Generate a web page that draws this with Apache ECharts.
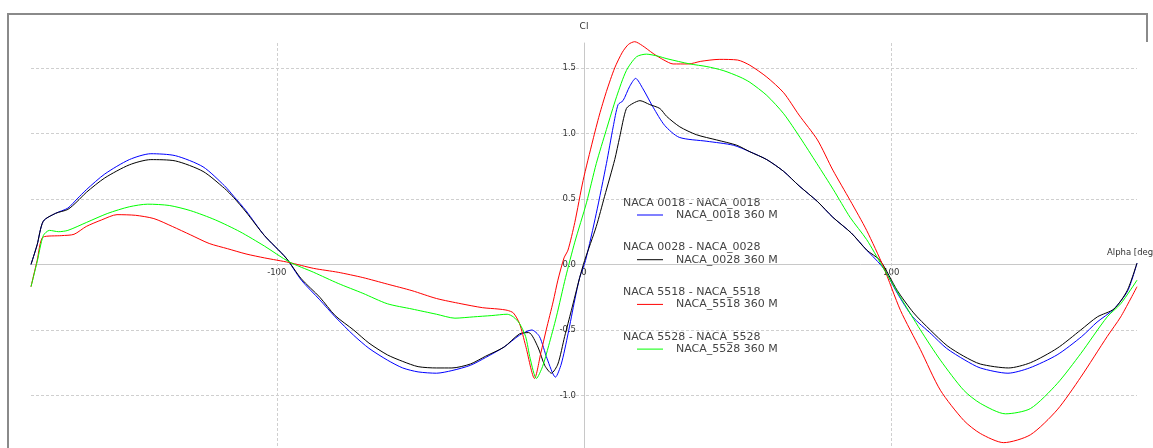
<!DOCTYPE html>
<html>
<head>
<meta charset="utf-8">
<script src="https://cdn.jsdelivr.net/npm/echarts@6/dist/echarts.min.js"></script>
<style>
html, body { margin: 0; padding: 0; background: #fff; }
#main { width: 1153px; height: 448px; }
</style>
</head>
<body>
<div id="main"></div>
<script>
// Cl vs alpha
var alpha0018 = [-180,-178,-176,-172,-168,-165,-162,-156,-148,-141,-133,-124,-117,-114,-110,-104,-97,-92,-86,-81,-75,-70,-64,-59,-54,-48,-43,-37,-32,-26,-21,-17,-14.5,-12,-9.3,-7.4,-5.2,-3,-1.4,0.5,4,7.3,9.5,11.1,12.7,14.9,16.8,19.2,22.5,26.3,31,40,48.6,54,59.5,65,70,76,81,87,92,97.5,102,107,113,118,124,129,138,145,154,162,167,172.5,177,180];
var cl0018 = [0,0.15,0.33,0.39,0.43,0.50,0.57,0.69,0.80,0.845,0.83,0.745,0.60,0.52,0.41,0.22,0.05,-0.12,-0.27,-0.40,-0.54,-0.64,-0.73,-0.79,-0.82,-0.83,-0.81,-0.77,-0.71,-0.63,-0.54,-0.50,-0.55,-0.72,-0.86,-0.76,-0.53,-0.27,-0.10,0.03,0.39,0.77,1.05,1.22,1.25,1.36,1.42,1.34,1.20,1.06,0.97,0.94,0.91,0.86,0.80,0.71,0.60,0.48,0.36,0.24,0.11,-0.03,-0.22,-0.40,-0.53,-0.64,-0.73,-0.79,-0.83,-0.79,-0.69,-0.55,-0.44,-0.34,-0.20,0.01];

var alpha0028 = [-180,-178,-176,-172,-168,-165,-162,-156,-148,-141,-133,-124,-117,-114,-110,-104,-97,-92,-86,-81,-75,-70,-64,-59,-54,-48,-43,-37,-32,-26,-21,-18,-15,-12.8,-10.6,-8.5,-6.3,-4.1,-1.4,0.2,4,6.7,10,11.6,13.8,16,18.2,21.4,24.7,26.9,31.2,36.6,43.2,49.7,54,59.5,65,70,76,81,87,92,96.4,102,107.3,112.7,118.2,123.6,129,138.2,145.3,154,161.7,167.1,172.5,176.8,180];
var cl0028 = [0,0.15,0.33,0.39,0.42,0.48,0.55,0.66,0.76,0.80,0.79,0.71,0.58,0.51,0.40,0.22,0.05,-0.11,-0.25,-0.39,-0.50,-0.60,-0.69,-0.74,-0.78,-0.79,-0.79,-0.76,-0.70,-0.63,-0.53,-0.52,-0.63,-0.77,-0.83,-0.76,-0.55,-0.35,-0.10,0.03,0.29,0.52,0.80,0.97,1.19,1.23,1.25,1.22,1.19,1.13,1.05,0.99,0.95,0.91,0.86,0.80,0.71,0.60,0.48,0.36,0.24,0.11,0.03,-0.20,-0.37,-0.50,-0.62,-0.70,-0.76,-0.79,-0.75,-0.64,-0.50,-0.40,-0.34,-0.20,0.01];

var alpha5518 = [-180,-178,-176,-170,-166,-162,-157,-152,-146,-140,-134,-128,-122,-116,-110,-104,-96,-88,-80,-72,-64,-56,-48,-40,-33,-28,-25,-23,-21,-19,-16.1,-14,-12.3,-10,-8.5,-6.5,-5.2,-3,-0.3,2.9,5,7.3,10,12.5,14.5,16.5,19,22.5,26,29,34,38,44,50,54,59.5,65,70,76,81,86.6,92,97.5,103,109.5,116,123.6,129,136.6,145.3,154,161.7,170.3,174.7,180];
var cl5518 = [-0.17,0.03,0.21,0.22,0.23,0.29,0.34,0.38,0.375,0.35,0.29,0.225,0.16,0.12,0.08,0.05,0.015,-0.03,-0.06,-0.10,-0.15,-0.20,-0.26,-0.30,-0.33,-0.34,-0.35,-0.37,-0.45,-0.62,-0.87,-0.67,-0.50,-0.28,-0.12,0.05,0.11,0.32,0.64,0.95,1.14,1.32,1.50,1.62,1.68,1.70,1.67,1.61,1.56,1.53,1.53,1.55,1.565,1.56,1.52,1.43,1.31,1.14,0.95,0.72,0.49,0.26,-0.02,-0.35,-0.65,-0.96,-1.19,-1.29,-1.36,-1.30,-1.11,-0.86,-0.55,-0.40,-0.17];

var alpha5528 = [-180,-178,-176,-174,-171,-168,-162,-155,-148,-142,-135,-128,-120,-112,-104,-96,-88,-80,-72,-64,-56,-48,-42,-36,-30,-25,-23,-21,-19,-17.5,-15.5,-13.5,-11.5,-9,-6,-3,0.8,4,7.3,10.6,13.8,17.1,20.3,24,27,34.5,40,45.3,50.8,54,59.5,65,70.3,75.8,81.2,86.6,92,97,103,109.5,116,123.6,129,137.2,145.3,154,161.7,170.3,174.7,180];
var cl5528 = [-0.17,0.02,0.22,0.26,0.25,0.26,0.32,0.39,0.44,0.46,0.45,0.41,0.34,0.25,0.14,0.02,-0.06,-0.145,-0.22,-0.30,-0.34,-0.38,-0.41,-0.40,-0.39,-0.38,-0.40,-0.45,-0.55,-0.72,-0.87,-0.78,-0.62,-0.40,-0.10,0.17,0.47,0.77,1.03,1.28,1.48,1.585,1.605,1.59,1.57,1.53,1.51,1.48,1.43,1.39,1.29,1.15,0.97,0.77,0.57,0.36,0.19,-0.01,-0.25,-0.50,-0.73,-0.96,-1.06,-1.14,-1.10,-0.91,-0.68,-0.40,-0.30,-0.12];

var seriesNames = ['NACA_0018 360 M', 'NACA_0028 360 M', 'NACA_5518 360 M', 'NACA_5528 360 M'];
var groupTitles = ['NACA 0018 - NACA_0018', 'NACA 0028 - NACA_0028', 'NACA 5518 - NACA_5518', 'NACA 5528 - NACA_5528'];
var seriesColors = ['#0000ff', '#000000', '#ff0000', '#00ff00'];
var xLabelValues = [-100, 0, 100];
var xGridValues = [-100, 100];
var xMin = -180, xMax = 180;
var yMin = -1.5, yMax = 1.69;

var font = 'DejaVu Sans';

function pairs(xs, ys) {
    return xs.map(function (x, i) { return [x, ys[i]]; });
}
var seriesData = [
    pairs(alpha0018, cl0018),
    pairs(alpha0028, cl0028),
    pairs(alpha5518, cl5518),
    pairs(alpha5528, cl5528)
];

// grid box, axes are shifted onto the zero lines with offset
var gridLeft = 31, gridRight = 16, gridTop = 43, gridHeight = 418;
var gridWidth = 1153 - gridLeft - gridRight;
var yAxisOffset = -gridWidth * (0 - xMin) / (xMax - xMin);
var xAxisOffset = -gridHeight * (0 - yMin) / (yMax - yMin);

var myChart = echarts.init(document.getElementById('main'));

var series = seriesData.map(function (d, i) {
    var s = {
        name: seriesNames[i],
        type: 'line',
        data: d,
        symbol: 'none',
        smooth: 0.25,
        clip: false,
        lineStyle: { color: seriesColors[i], width: 1 },
        itemStyle: { color: seriesColors[i] },
        z: 3
    };
    if (i === 0) {
        s.markLine = {
            silent: true,
            symbol: 'none',
            label: { show: false },
            lineStyle: { color: '#cfcfcf', type: [3, 2], width: 1 },
            data: xGridValues.map(function (v) { return { xAxis: v }; }),
            z: 1
        };
    }
    return s;
});

// frame of the plot window
var graphics = [{
    type: 'polyline',
    shape: { points: [[8, 460], [8, 14], [1147, 14], [1147, 42]] },
    style: { fill: 'none', stroke: '#8a8a8a', lineWidth: 2 },
    silent: true
}];
groupTitles.forEach(function (t, i) {
    graphics.push({
        type: 'text',
        x: 623,
        y: 203 + i * 44.6,
        style: { text: t, fill: '#444', font: '11px ' + font, verticalAlign: 'middle' },
        silent: true
    });
});

option = {
    backgroundColor: '#fff',
    animation: false,
    grid: { left: gridLeft, right: gridRight, top: gridTop, height: gridHeight, outerBoundsMode: 'none' },
    legend: {
        orient: 'vertical',
        left: 637,
        top: 209.5,
        padding: 0,
        itemGap: 33.7,
        itemWidth: 26,
        itemHeight: 1,
        icon: 'rect',
        textStyle: { color: '#444', fontSize: 11, fontFamily: font, padding: [0, 0, 0, 8] },
        data: seriesNames
    },
    graphic: graphics,
    xAxis: {
        type: 'value',
        min: xMin,
        max: xMax,
        interval: 20,
        position: 'bottom',
        offset: xAxisOffset,
        name: 'Alpha [deg]',
        nameLocation: 'end',
        nameGap: -30,
        nameTextStyle: { color: '#333', fontSize: 8.5, fontFamily: font, align: 'left', verticalAlign: 'bottom', padding: [0, 0, 7, 0] },
        axisLine: { onZero: false, lineStyle: { color: '#c8c8c8', width: 1 } },
        axisTick: { show: false },
        axisLabel: {
            margin: 4,
            color: '#333',
            fontSize: 8.5,
            fontFamily: font,
            formatter: function (v) { return xLabelValues.indexOf(v) >= 0 ? String(v) : ''; }
        },
        splitLine: { show: false }
    },
    yAxis: {
        type: 'value',
        min: yMin,
        max: yMax,
        interval: 0.5,
        position: 'left',
        offset: yAxisOffset,
        name: 'Cl',
        nameLocation: 'end',
        nameGap: 12,
        nameTextStyle: { color: '#333', fontSize: 9, fontFamily: font },
        axisLine: { onZero: false, lineStyle: { color: '#c8c8c8', width: 1 } },
        axisTick: { show: false },
        axisLabel: {
            margin: 8,
            color: '#333',
            fontSize: 8.5,
            fontFamily: font,
            showMaxLabel: false,
            formatter: function (v) { return v.toFixed(1); }
        },
        splitLine: { show: true, showMaxLine: false, lineStyle: { color: '#cfcfcf', type: [3, 2], width: 1 } }
    },
    series: series
};
myChart.setOption(option);
</script>
</body>
</html>
